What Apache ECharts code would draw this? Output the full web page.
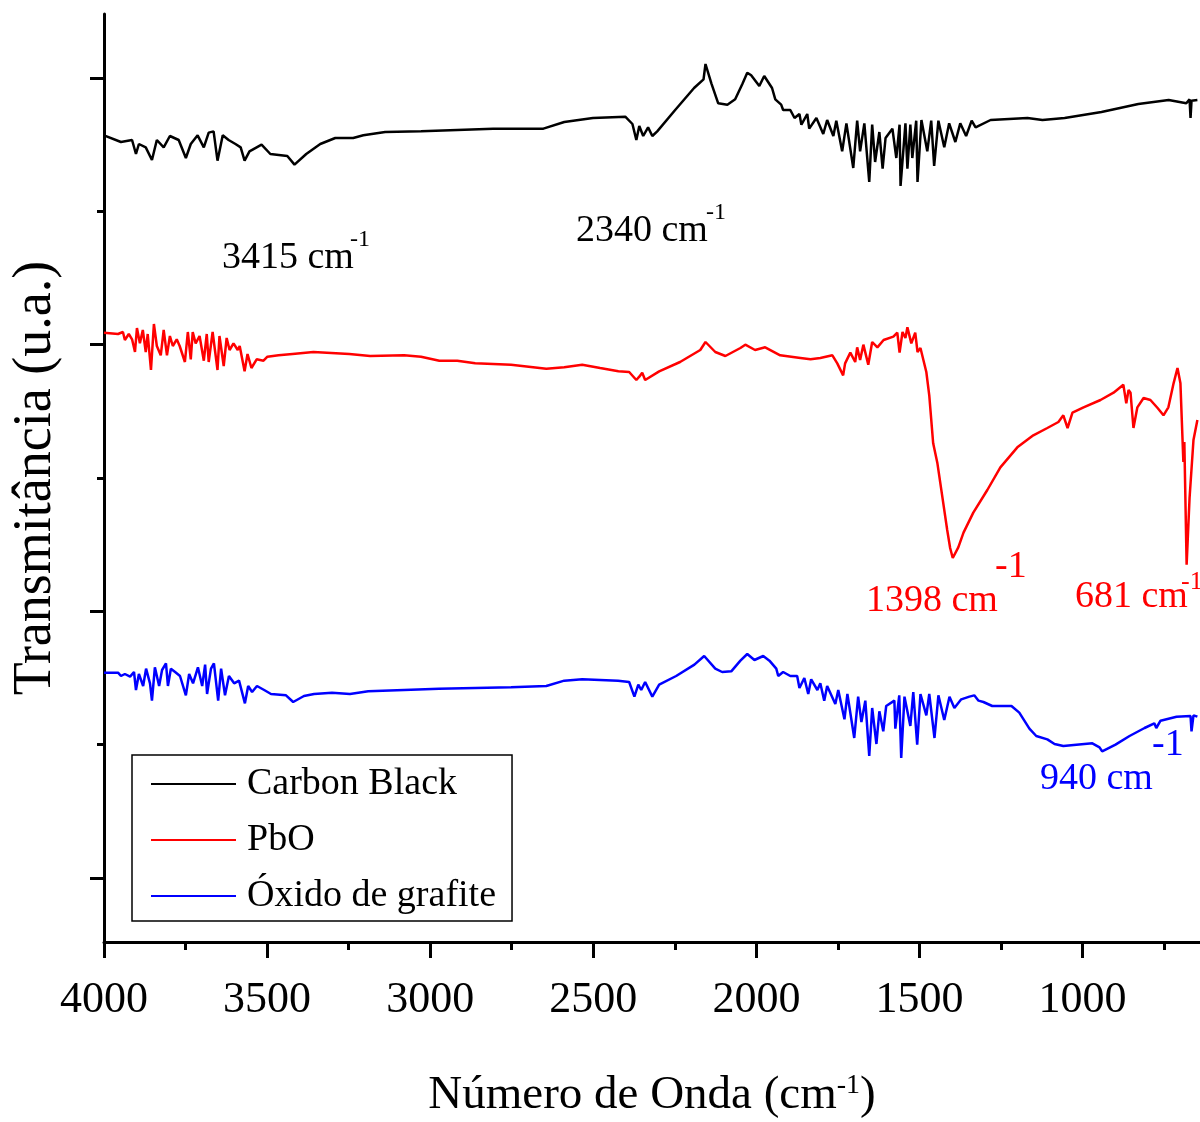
<!DOCTYPE html>
<html>
<head>
<meta charset="utf-8">
<title>Espectros FTIR</title>
<script src="https://cdn.jsdelivr.net/npm/echarts@6/dist/echarts.min.js"></script>
<style>
  html, body { margin: 0; padding: 0; background: #fff; }
  #chart { width: 1200px; height: 1122px; }
</style>
</head>
<body>
<div id="chart"></div>
<script>
// Wavenumber ticks (cm-1) and offset transmittance ticks (a.u.)
const xMajorTicks = [1000, 1500, 2000, 2500, 3000, 3500, 4000];
const xMinorTicks = [750, 1250, 1750, 2250, 2750, 3250, 3750];
const yMajorTicks = [0, 20, 40, 60];
const yMinorTicks = [10, 30, 50];

const seriesNames = ['Carbon Black', 'PbO', 'Óxido de grafite'];

// [wavenumber (cm-1), transmittance (a.u., stacked offsets)]
const carbonBlack = [
  [4000,55.7],[3948,55.2],[3914,55.35],[3902,54.3],[3893,55.05],[3872,54.8],[3853,53.85],[3838,55.35],
  [3817,54.8],[3798,55.65],[3771,55.35],[3749,54.0],[3734,55.05],[3713,55.7],[3694,54.8],[3679,55.9],
  [3664,56.0],[3652,53.8],[3636,55.7],[3618,55.35],[3597,55.05],[3581,54.8],[3569,53.8],[3554,54.5],
  [3532,54.8],[3517,55.0],[3490,54.3],[3438,54.15],[3416,53.5],[3380,54.3],[3337,55.05],[3291,55.5],
  [3236,55.5],[3205,55.7],[3138,55.95],[3028,56.0],[2917,56.1],[2807,56.2],[2653,56.2],[2589,56.7],
  [2501,57.0],[2402,57.1],[2380,56.55],[2368,55.35],[2359,56.4],[2347,55.65],[2332,56.3],[2319,55.65],
  [2304,56.0],[2249,57.6],[2191,59.25],[2162,59.9],[2156,61.05],[2138,59.6],[2117,58.1],[2089,58.0],
  [2065,58.4],[2043,59.55],[2028,60.4],[2016,60.2],[1991,59.4],[1976,60.15],[1952,59.25],[1942,58.4],
  [1924,58.0],[1918,57.6],[1896,57.6],[1883,57.0],[1868,57.3],[1862,56.5],[1844,57.3],[1838,56.2],
  [1816,57.0],[1795,55.8],[1783,56.85],[1764,55.65],[1755,56.8],[1737,54.5],[1724,56.6],[1703,53.25],
  [1691,56.8],[1682,54.5],[1669,56.6],[1654,52.2],[1645,56.5],[1636,53.7],[1623,55.95],[1613,53.2],
  [1604,55.5],[1583,56.2],[1571,54.0],[1561,56.5],[1558,51.9],[1543,56.6],[1537,53.2],[1528,56.5],
  [1522,54.0],[1510,56.8],[1506,52.2],[1494,56.85],[1476,54.5],[1464,56.8],[1455,53.4],[1442,56.8],
  [1424,54.8],[1409,56.6],[1390,55.2],[1375,56.6],[1357,55.65],[1340,56.8],[1328,56.3],[1282,56.85],
  [1169,57.0],[1123,56.85],[1055,57.0],[942,57.45],[829,58.05],[736,58.35],[682,58.1],[672,58.4],
  [669,57.0],[666,58.3],[648,58.35]
];

const pbo = [
  [4000,40.9],[3957,40.8],[3942,40.95],[3936,40.35],[3924,40.8],[3914,40.4],[3905,39.45],[3899,41.25],
  [3890,40.1],[3881,41.1],[3872,39.45],[3866,40.8],[3856,38.1],[3847,41.55],[3838,39.9],[3826,39.2],
  [3817,41.1],[3807,39.2],[3798,40.65],[3789,39.9],[3777,40.4],[3768,39.9],[3752,38.7],[3743,40.95],
  [3734,38.9],[3728,40.95],[3719,40.1],[3707,40.65],[3694,38.8],[3685,40.8],[3679,38.7],[3667,40.95],
  [3652,38.1],[3646,40.65],[3633,38.4],[3624,40.5],[3615,39.6],[3603,40.1],[3590,39.6],[3584,39.9],
  [3569,38.0],[3560,39.3],[3548,38.25],[3532,38.9],[3511,38.8],[3499,39.1],[3465,39.2],[3422,39.3],
  [3358,39.45],[3248,39.3],[3184,39.15],[3080,39.2],[3028,39.1],[2972,38.8],[2917,38.8],[2862,38.6],
  [2752,38.5],[2644,38.2],[2589,38.3],[2534,38.5],[2479,38.25],[2423,38.0],[2390,37.95],[2368,37.35],
  [2359,37.6],[2350,37.9],[2341,37.35],[2298,38.0],[2234,38.7],[2172,39.6],[2156,40.2],[2126,39.45],
  [2095,39.15],[2049,39.75],[2034,40.0],[2004,39.6],[1973,39.8],[1927,39.2],[1865,39.0],[1834,38.9],
  [1804,39.0],[1767,39.2],[1752,38.6],[1734,37.7],[1728,38.6],[1712,39.4],[1697,38.7],[1691,39.8],
  [1682,38.85],[1672,40.0],[1657,38.5],[1645,40.2],[1629,39.8],[1610,40.35],[1580,40.6],[1568,40.9],
  [1561,39.4],[1552,40.95],[1543,40.5],[1537,41.3],[1525,40.1],[1513,40.9],[1506,39.45],[1497,39.75],
  [1488,38.85],[1479,37.95],[1470,36.2],[1458,32.6],[1445,31.1],[1430,28.6],[1415,26.1],[1406,24.75],
  [1398,24.0],[1381,24.8],[1365,25.9],[1335,27.4],[1292,29.1],[1252,30.8],[1200,32.3],[1151,33.2],
  [1108,33.75],[1074,34.2],[1059,34.7],[1046,33.75],[1031,34.9],[997,35.3],[945,35.85],[905,36.4],
  [875,37.0],[866,35.6],[859,36.6],[853,36.4],[844,33.75],[832,35.3],[813,36.0],[792,35.85],
  [770,35.25],[752,34.7],[737,35.3],[721,37.1],[709,38.25],[700,37.1],[691,31.2],[688,32.7],
  [681,23.5],[672,28.5],[660,32.85],[648,34.35]
];

const oxidoGrafite = [
  [4000,15.4],[3957,15.4],[3948,15.15],[3936,15.3],[3920,15.1],[3908,15.45],[3902,14.1],[3893,15.3],
  [3880,14.4],[3871,15.7],[3859,14.6],[3853,13.3],[3844,15.8],[3831,14.4],[3822,15.6],[3810,16.1],
  [3804,14.4],[3795,15.7],[3782,15.45],[3767,15.15],[3749,13.7],[3739,15.3],[3727,14.6],[3712,15.8],
  [3699,14.4],[3690,16.0],[3684,13.8],[3672,15.7],[3663,16.1],[3650,13.3],[3641,15.7],[3629,13.7],
  [3617,15.15],[3601,14.6],[3586,14.8],[3568,13.1],[3558,14.4],[3546,13.95],[3531,14.4],[3509,14.1],
  [3488,13.8],[3442,13.7],[3420,13.2],[3387,13.65],[3356,13.8],[3301,13.9],[3246,13.8],[3190,14.0],
  [3080,14.1],[2973,14.2],[2862,14.25],[2752,14.3],[2644,14.4],[2589,14.8],[2534,14.9],[2424,14.8],
  [2390,14.7],[2374,13.6],[2362,14.5],[2353,14.1],[2341,14.7],[2319,13.6],[2298,14.5],[2246,15.15],
  [2190,16.0],[2160,16.65],[2126,15.7],[2105,15.45],[2077,15.5],[2049,16.3],[2028,16.8],[2006,16.35],
  [1979,16.65],[1960,16.3],[1939,15.7],[1933,15.15],[1918,15.45],[1896,15.15],[1875,15.15],[1868,14.25],
  [1853,15.0],[1841,13.8],[1832,14.9],[1813,14.1],[1804,14.6],[1792,13.3],[1783,14.4],[1758,13.05],
  [1749,14.1],[1730,11.9],[1721,13.8],[1700,10.5],[1688,13.6],[1678,11.7],[1666,13.3],[1654,9.15],
  [1645,12.75],[1632,10.05],[1623,12.5],[1611,11.0],[1602,12.9],[1577,13.3],[1574,11.2],[1562,13.7],
  [1556,9.0],[1546,13.6],[1528,11.4],[1519,13.95],[1507,10.0],[1497,13.8],[1479,12.2],[1470,13.8],
  [1454,10.5],[1442,13.7],[1424,11.85],[1408,13.6],[1393,12.75],[1372,13.4],[1347,13.6],[1332,13.7],
  [1319,13.3],[1304,13.2],[1277,12.9],[1218,12.9],[1194,12.4],[1163,11.2],[1142,10.65],[1108,10.4],
  [1086,10.05],[1059,9.9],[1019,10.0],[970,10.1],[948,9.8],[940,9.5],[899,10.0],[856,10.65],
  [810,11.25],[780,11.6],[774,11.25],[761,11.8],[712,12.1],[669,12.15],[666,11.0],[660,12.2],[648,12.1]
];

const FONT = '"Liberation Serif", "Times New Roman", serif';
const X_MIN = 640, X_MAX = 4000;
const Y_MIN = -4.8, Y_MAX = 64.8;

const chart = echarts.init(document.getElementById('chart'), null, { renderer: 'canvas' });

// Band assignment label: main text plus a raised "-1" exponent
function bandLabel(x, y, main, color, supX, supY, supSize) {
  return [
    { type: 'text', x: x, y: y, z: 10,
      style: { text: main, fill: color, font: '38px ' + FONT, align: 'left', verticalAlign: 'middle' } },
    { type: 'text', x: supX, y: supY, z: 10,
      style: { text: '-1', fill: color, font: supSize + 'px ' + FONT, align: 'left', verticalAlign: 'middle' } }
  ];
}

const plainNumber = v => String(v);

const option = {
  animation: false,
  backgroundColor: '#fff',
  textStyle: { fontFamily: FONT },
  grid: { left: 104, right: 0, top: 14, bottom: 180, containLabel: false, outerBoundsMode: 'none' },
  legend: {
    data: seriesNames,
    orient: 'vertical',
    left: 132,
    top: 755,
    icon: 'rect',
    itemWidth: 85,
    itemHeight: 2,
    itemGap: 18,
    padding: [10, 16, 6, 19],
    borderColor: '#000',
    borderWidth: 1.5,
    borderRadius: 0,
    textStyle: { fontSize: 38, fontFamily: FONT, color: '#000', padding: [0, 0, 0, 6] }
  },
  xAxis: [
    {
      type: 'value', inverse: true, min: X_MIN, max: X_MAX,
      position: 'bottom',
      splitLine: { show: false },
      axisLine: { show: true, onZero: false, lineStyle: { color: '#000', width: 3 } },
      axisTick: { show: true, inside: false, length: 16, customValues: xMajorTicks, lineStyle: { color: '#000', width: 3 } },
      axisLabel: { show: true, customValues: xMajorTicks, formatter: plainNumber, margin: 36, fontSize: 44, fontFamily: FONT, color: '#000' },
      name: '{t|Número de Onda (cm}{s|-1}{t|)}',
      nameLocation: 'middle',
      nameGap: 130,
      nameTextStyle: {
        rich: {
          t: { fontSize: 47, fontFamily: FONT, color: '#000' },
          s: { fontSize: 28, fontFamily: FONT, color: '#000', verticalAlign: 'top' }
        }
      }
    },
    {
      type: 'value', inverse: true, min: X_MIN, max: X_MAX,
      position: 'bottom',
      splitLine: { show: false },
      axisLine: { show: false, onZero: false },
      axisTick: { show: true, inside: false, length: 8, customValues: xMinorTicks, lineStyle: { color: '#000', width: 3 } },
      axisLabel: { show: false }
    }
  ],
  yAxis: [
    {
      type: 'value', min: Y_MIN, max: Y_MAX,
      position: 'left',
      splitLine: { show: false },
      axisLine: { show: true, onZero: false, lineStyle: { color: '#000', width: 3 } },
      axisTick: { show: true, inside: false, length: 14, customValues: yMajorTicks, lineStyle: { color: '#000', width: 3 } },
      axisLabel: { show: false },
      name: 'Transmitância (u.a.)',
      nameLocation: 'middle',
      nameGap: 41,
      nameTextStyle: { fontSize: 54, fontFamily: FONT, color: '#000' }
    },
    {
      type: 'value', min: Y_MIN, max: Y_MAX,
      position: 'left',
      splitLine: { show: false },
      axisLine: { show: false, onZero: false },
      axisTick: { show: true, inside: false, length: 7, customValues: yMinorTicks, lineStyle: { color: '#000', width: 3 } },
      axisLabel: { show: false }
    }
  ],
  series: [
    { name: seriesNames[0], type: 'line', data: carbonBlack, showSymbol: false, symbol: 'none',
      lineStyle: { color: '#000000', width: 2.5 }, itemStyle: { color: '#000000' }, clip: true, z: 3 },
    { name: seriesNames[1], type: 'line', data: pbo, showSymbol: false, symbol: 'none',
      lineStyle: { color: '#ff0000', width: 2.5 }, itemStyle: { color: '#ff0000' }, clip: true, z: 3 },
    { name: seriesNames[2], type: 'line', data: oxidoGrafite, showSymbol: false, symbol: 'none',
      lineStyle: { color: '#0000ff', width: 2.5 }, itemStyle: { color: '#0000ff' }, clip: true, z: 3 }
  ],
  graphic: [].concat(
    bandLabel(222, 258, '3415 cm', '#000', 350, 240, 24),
    bandLabel(576, 231, '2340 cm', '#000', 706, 213, 24),
    bandLabel(866, 601, '1398 cm', '#ff0000', 995, 567, 38),
    bandLabel(1075, 597, '681 cm', '#ff0000', 1181, 582, 26),
    bandLabel(1040, 779, '940 cm', '#0000ff', 1152, 745, 38)
  )
};

chart.setOption(option);
</script>
</body>
</html>
